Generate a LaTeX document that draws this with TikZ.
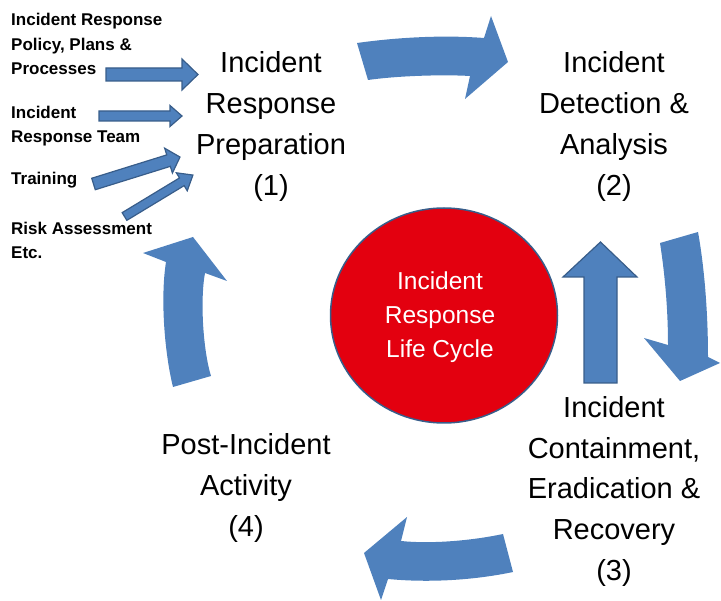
\documentclass[tikz,border=0pt]{standalone}
\usepackage{fontspec}
\setmainfont{Liberation Sans}
\usepackage{tikz}

\definecolor{arrowblue}{RGB}{79,129,189}
\definecolor{edgeblue}{RGB}{56,93,138}
\definecolor{cyclered}{RGB}{227,0,15}

% block arrow: tail point, angle, length, body half width, head half width, head length
\newcommand{\blockarrow}[6]{%
  \draw[smallarrow,shift={#1},rotate=#2]
    (0,-#4) -- (#3-#6,-#4) -- (#3-#6,-#5) -- (#3,0) -- (#3-#6,#5) -- (#3-#6,#4) -- (0,#4) -- cycle;}

\begin{document}
\begin{tikzpicture}[x=1pt,y=-1pt,
    phase/.style={align=center,inner sep=0,anchor=base,font=\fontsize{29}{41}\selectfont},
    input/.style={align=left,inner sep=0,anchor=base west,font=\fontsize{17}{24.5}\selectfont\bfseries},
    cycletext/.style={align=center,inner sep=0,anchor=base,text=white,font=\fontsize{24.5}{34}\selectfont},
    bigarrow/.style={fill=arrowblue,draw=none},
    smallarrow/.style={fill=arrowblue,draw=edgeblue,line width=1.2pt,line join=miter},
    cyclering/.style={fill=cyclered,draw=edgeblue,line width=1.5pt}]
    \useasboundingbox (0,0) rectangle (721,601);

    % centre (base = last line)
    \draw[cyclering] (444,315.5) ellipse [x radius=113.5, y radius=107.5];
    \node[cycletext] (cycle) at (440,358) {Incident\\Response\\Life Cycle};

    % the four phases
    \node[phase] (prep) at (271,196) {Incident\\Response\\Preparation\\(1)};
    \node[phase] (detect) at (614,196) {Incident\\Detection \&\\Analysis\\(2)};
    \node[phase] (contain) at (614,581) {Incident\\Containment,\\Eradication \&\\Recovery\\(3)};
    \node[phase] (post) at (246,537) {Post-Incident\\Activity\\(4)};

    % inputs to preparation
    \node[input] (policy) at (11,75) {Incident Response\\Policy, Plans \&\\Processes};
    \node[input] (team) at (11,143) {Incident\\Response Team};
    \node[input] (training) at (11,185) {Training};
    \node[input] (risk) at (11,259) {Risk Assessment\\Etc.};

    \blockarrow{(106,74.5)}{0}{92}{6.5}{15.5}{16}
    \blockarrow{(99,116)}{0}{83}{5}{10.5}{12}
    \blockarrow{(93.5,184)}{17.3}{90.6}{6}{13}{12}
    \blockarrow{(124.5,216.5)}{31.2}{80}{4.5}{10.5}{13}

    % cycle arrows
    \fill[bigarrow] (357,43) .. controls (400,37) and (445,35) .. (484,38) -- (491,16) -- (508,62)
        -- (465,99) -- (470,76) .. controls (445,74.5) and (400,75.5) .. (368,80) -- cycle;
    \fill[bigarrow] (698,232) .. controls (704,265) and (708,310) .. (708,357) -- (720,363) -- (680,381)
        -- (644,338) -- (668,345) .. controls (668,310) and (665,275) .. (660,243) -- cycle;
    \fill[bigarrow] (503,534) .. controls (470,541) and (430,544) .. (401,541) -- (407,517) -- (364,553)
        -- (381,600) -- (388,579) .. controls (430,583) and (475,580) .. (513,572) -- cycle;
    \fill[bigarrow] (173,387) .. controls (165,355) and (160,300) .. (166,262) -- (143,253) -- (193,237)
        -- (227,281) -- (205,273) .. controls (200,300) and (203,350) .. (211,376) -- cycle;

    % back to detection
    \draw[smallarrow] (584,383) -- (584,277) -- (563,277) -- (600.5,242) -- (637,277) -- (617,277) -- (617,383) -- cycle;
\end{tikzpicture}
\end{document}
